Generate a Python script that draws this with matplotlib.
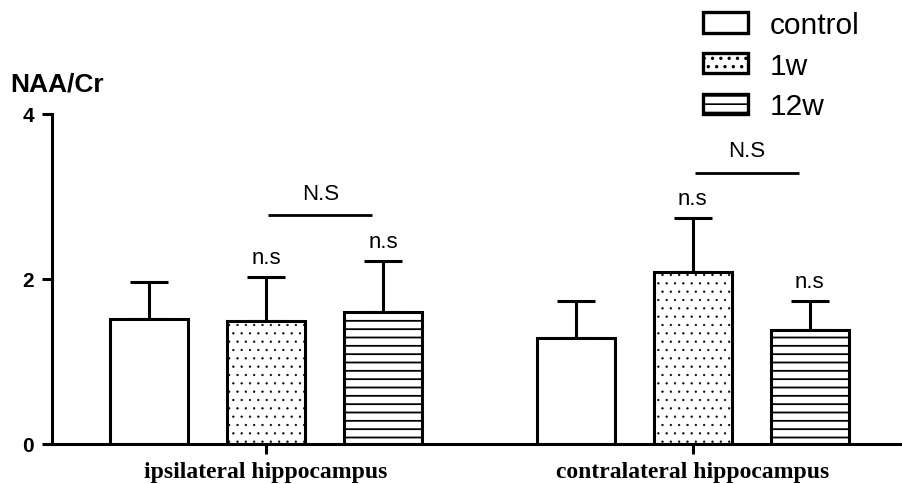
import matplotlib
matplotlib.use("Agg")
import matplotlib.pyplot as plt
import numpy as np
from matplotlib.patches import Patch

plt.rcParams['font.family'] = ['Liberation Sans', 'DejaVu Sans']
plt.rcParams['hatch.linewidth'] = 1.2

categories = ["ipsilateral hippocampus", "contralateral hippocampus"]
groups = ["control", "1w", "12w"]
means = {
    "control": [1.52, 1.28],
    "1w": [1.49, 2.08],
    "12w": [1.60, 1.38],
}
errors = {
    "control": [0.44, 0.45],
    "1w": [0.53, 0.66],
    "12w": [0.62, 0.35],
}
hatches = {"control": "", "1w": "..", "12w": "--"}
hatch_lw = {"control": 1.2, "1w": 0.4, "12w": 1.3}
sig_labels = {"control": "", "1w": "n.s", "12w": "n.s"}
bracket_label = "N.S"
yticks = [0, 2, 4]

W, H, DPI = 902, 485, 100
fig = plt.figure(figsize=(W / DPI, H / DPI), dpi=DPI)
ax_left, ax_right, ax_bottom, ax_top = 52, 902, 445, 115
ax = fig.add_axes([ax_left / W, 1 - ax_bottom / H, (ax_right - ax_left) / W, (ax_bottom - ax_top) / H])

bar_w = 0.667
group_start = [0.0, 3.65]
lw = 2.2

for gi, g in enumerate(groups):
    xs = [s + gi for s in group_start]
    with plt.rc_context({'hatch.linewidth': hatch_lw[g]}):
        ax.bar(xs, means[g], width=bar_w, facecolor="white", edgecolor="black",
               linewidth=lw, hatch=hatches[g], zorder=2)
    ax.errorbar(xs, means[g], yerr=[np.zeros(len(xs)), errors[g]], fmt="none",
                ecolor="black", elinewidth=lw, capsize=14, capthick=lw, zorder=1)
    if sig_labels[g]:
        for x, m, e in zip(xs, means[g], errors[g]):
            ax.annotate(sig_labels[g], (x, m + e), xytext=(0, 10), textcoords="offset points",
                        ha="center", va="baseline", fontsize=16)

# N.S brackets between 1w and 12w
for ci, s in enumerate(group_start):
    top = max(means[g][ci] + errors[g][ci] for g in ["1w", "12w"])
    yb = top + 0.55
    x0, x1 = s + 1.02, s + 1.91
    ax.plot([x0, x1], [yb, yb], color="black", lw=2.0, solid_capstyle="butt")
    ax.annotate(bracket_label, ((x0 + x1) / 2, yb), xytext=(0, 12), textcoords="offset points",
                ha="center", va="baseline", fontsize=16)

ax.set_ylim(0, 4)
ax.set_xlim(-0.83, 6.44)
ax.set_yticks(yticks)
ax.set_yticklabels([str(t) for t in yticks], fontsize=15, fontweight="bold")
ax.set_xticks([s + 1 for s in group_start])
ax.set_xticklabels(categories, fontsize=17, fontweight="bold", family="Liberation Serif")
for sp in ["top", "right"]:
    ax.spines[sp].set_visible(False)
for sp in ["left", "bottom"]:
    ax.spines[sp].set_linewidth(lw)
ax.tick_params(axis="y", length=7, width=lw, pad=6)
ax.tick_params(axis="x", length=7, width=lw, pad=5)

fig.text(10 / W, 1 - 85 / H, "NAA/Cr", fontsize=19, fontweight="bold", va="center", ha="left")

with plt.rc_context({'hatch.linewidth': 0.8}):
    handles = [Patch(facecolor="white", edgecolor="black", linewidth=2.4, hatch=hatches[g], label=g) for g in groups]
leg = fig.legend(handles=handles, loc="upper left", bbox_to_anchor=(703 / W, 1 - 12 / H),
                 frameon=False, fontsize=21.5, handlelength=1.5, handleheight=0.66,
                 handletextpad=0.75, labelspacing=0.42, borderpad=0, borderaxespad=0)

fig.savefig("out.png", dpi=DPI)
